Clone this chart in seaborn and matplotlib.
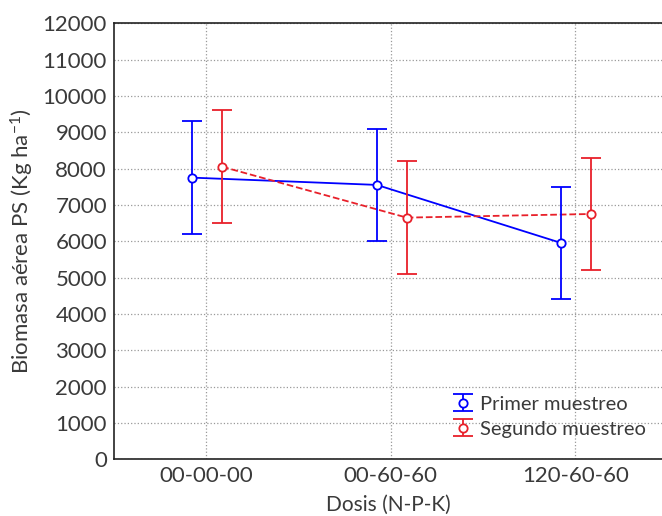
import numpy as np
import pandas as pd
import seaborn as sns
import matplotlib.pyplot as plt
from matplotlib.container import ErrorbarContainer
from matplotlib.legend_handler import HandlerErrorbar

# --------------------------- DATA ---------------------------
dosis = ['00-00-00', '00-60-60', '120-60-60']
primer_media = [7750, 7550, 5950]
primer_err = [1550, 1550, 1550]
segundo_media = [8050, 6650, 6750]
segundo_err = [1550, 1550, 1550]
series = ['Primer muestreo', 'Segundo muestreo']

# --------------------------- STYLE ---------------------------
sns.set_style("ticks")
plt.rcParams['font.family'] = ['Lato', 'DejaVu Sans']
plt.rcParams['mathtext.default'] = 'regular'
txt = '#3a3a3a'
colores = {'Primer muestreo': '#0000ff', 'Segundo muestreo': '#e8202a'}
offsets = {'Primer muestreo': -0.075, 'Segundo muestreo': 0.087}
estilos = {'Primer muestreo': '-', 'Segundo muestreo': '--'}

pos = np.arange(len(dosis))
df = pd.DataFrame({
    'x': np.concatenate([pos + offsets[series[0]], pos + offsets[series[1]]]),
    'y': primer_media + segundo_media,
    'err': primer_err + segundo_err,
    'serie': [series[0]] * 3 + [series[1]] * 3,
})

fig = plt.figure(figsize=(6.62, 5.16), dpi=100)
ax = fig.add_axes([0.172, 0.110, 0.828, 0.845])

for s in series:
    d = df[df['serie'] == s]
    sns.lineplot(data=d, x='x', y='y', color=colores[s], linestyle=estilos[s],
                 lw=1.3, ax=ax, legend=False, zorder=3)
    ax.errorbar(d['x'], d['y'], yerr=d['err'], fmt='o', color=colores[s],
                mfc='white', mec=colores[s], ms=6, mew=1.3, capsize=7,
                elinewidth=1.3, capthick=1.3, label=s, zorder=4)

ax.set_xlim(-0.5, 2.47)
ax.set_ylim(0, 12000)
ax.set_yticks(np.arange(0, 12001, 1000))
ax.set_xticks(pos)
ax.set_xticklabels(dosis)
ax.grid(True, linestyle=':', color='#999999', lw=0.9)
ax.set_axisbelow(True)

for sp in ['left', 'bottom', 'top']:
    ax.spines[sp].set_color('#222222')
    ax.spines[sp].set_linewidth(1.2)
ax.spines['right'].set_visible(False)

ax.tick_params(axis='both', labelsize=16, colors=txt, length=0, pad=5)
ax.set_xlabel('Dosis (N-P-K)', fontsize=15, color=txt, labelpad=6)
ax.set_ylabel('Biomasa aérea PS (Kg ha$^{-1}$)', fontsize=16, color=txt, labelpad=5)

leg = ax.legend(loc='lower right', bbox_to_anchor=(1.0, 0.012), frameon=False,
                fontsize=14.5, handlelength=1.1, handletextpad=0.3, labelspacing=0.4,
                borderpad=0.3,
                handler_map={ErrorbarContainer: HandlerErrorbar(xerr_size=0.4, yerr_size=0.42)})
for t in leg.get_texts():
    t.set_color(txt)

fig.savefig('out.png', dpi=100)
